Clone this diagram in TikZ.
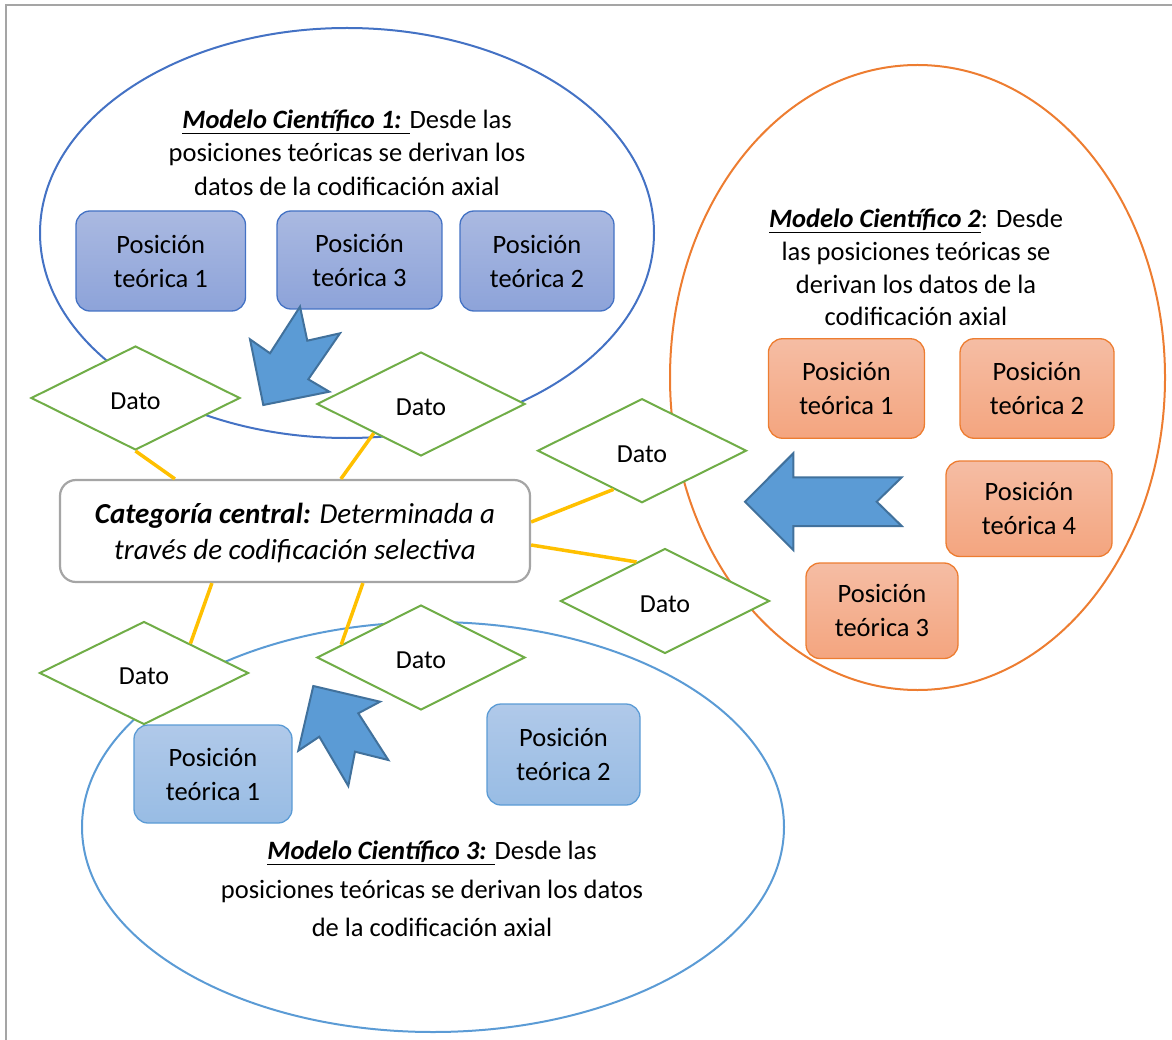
\documentclass[tikz,border=0pt]{standalone}
\usepackage{fontspec}
\setmainfont{Carlito}
\usetikzlibrary{shapes.geometric,calc}
\definecolor{eblue}{HTML}{4472C4}
\definecolor{eorange}{HTML}{ED7D31}
\definecolor{elight}{HTML}{5B9BD5}
\definecolor{dgreen}{HTML}{70AD47}
\definecolor{lyellow}{HTML}{FFC000}
\definecolor{fgray}{HTML}{A5A5A5}
\definecolor{arrfill}{HTML}{5B9BD5}
\definecolor{arrdraw}{HTML}{41719C}
\definecolor{btop}{HTML}{AAB9E1}
\definecolor{bbot}{HTML}{8DA3D9}
\definecolor{otop}{HTML}{F5BDA4}
\definecolor{obot}{HTML}{F4A57F}
\definecolor{ltop}{HTML}{B0C9E9}
\definecolor{lbot}{HTML}{98BCE4}
\newcommand{\datotext}{\raisebox{-3pt}[\height][0pt]{Dato}}
\begin{document}
\begin{tikzpicture}[x=1pt,y=-1pt,
  posbox/.style={rectangle, rounded corners=14pt, align=center, inner sep=0pt,
    font=\fontsize{26.5}{34}\selectfont, line width=1.3pt},
  bluebox/.style={posbox, draw=eblue, top color=btop, bottom color=bbot},
  orangebox/.style={posbox, draw=eorange, top color=otop, bottom color=obot},
  lightbox/.style={posbox, draw=elight, top color=ltop, bottom color=lbot},
  datobox/.style={diamond, draw=dgreen, fill=white, line width=2pt, inner sep=0pt,
    font=\fontsize{26}{28}\selectfont},
  link/.style={draw=lyellow, line width=3.5pt},
  blockarrow/.style={fill=arrfill, draw=arrdraw, line width=2pt},
  modeltext/.style={align=center, inner sep=0pt}
]
\useasboundingbox (0,0) rectangle (1172,1040);
% frame
\draw[fgray, line width=2.5pt] (6,1045) -- (6,5) -- (1180,5);

% ellipses
\node[ellipse, draw=eblue, line width=2pt, minimum width=614pt, minimum height=410pt] (e1) at (347,233) {};
\node[ellipse, draw=eorange, line width=2pt, minimum width=495pt, minimum height=625pt] (e2) at (917.5,377.5) {};
\node[ellipse, draw=elight, line width=2pt, minimum width=702pt, minimum height=410pt] (e3) at (433,827) {};

% model texts
\node[modeltext, font=\fontsize{26.5}{33.5}\selectfont] (m1) at (347,152.5)
  {\underline{\textbf{\textit{Modelo Científico 1:}} }Desde las\\posiciones teóricas se derivan los\\datos de la codificación axial};
\node[modeltext, font=\fontsize{26.5}{32.7}\selectfont] (m2) at (916,267.5)
  {\underline{\textbf{\textit{Modelo Científico 2}}}: Desde\\las posiciones teóricas se\\derivan los datos de la\\codificación axial};
\node[modeltext, font=\fontsize{26.5}{38.5}\selectfont] (m3) at (432,889)
  {\underline{\textbf{\textit{Modelo Científico 3:}} }Desde las\\posiciones teóricas se derivan los datos\\de la codificación axial};

% position boxes
\node[bluebox, minimum width=169.5pt, minimum height=100pt] (t1) at (160.75,261) {Posición\\teórica 1};
\node[bluebox, minimum width=165pt, minimum height=98pt] (t3) at (359.5,260) {Posición\\teórica 3};
\node[bluebox, minimum width=154pt, minimum height=100pt] (t2) at (537,261) {Posición\\teórica 2};

\node[orangebox, minimum width=156pt, minimum height=99.5pt] (o1) at (846.4,388.5) {Posición\\teórica 1};
\node[orangebox, minimum width=154pt, minimum height=99.5pt] (o2) at (1037,388.5) {Posición\\teórica 2};
\node[orangebox, minimum width=166pt, minimum height=95.5pt] (o4) at (1029,508.75) {Posición\\teórica 4};
\node[orangebox, minimum width=152pt, minimum height=95.5pt] (o3) at (882,610.75) {Posición\\teórica 3};

\node[lightbox, minimum width=158pt, minimum height=98pt] (b1) at (213,774) {Posición\\teórica 1};
\node[lightbox, minimum width=153pt, minimum height=101pt] (b2) at (563.5,754.5) {Posición\\teórica 2};

% central category
\node[rectangle, rounded corners=16pt, draw=fgray, fill=white, line width=2.2pt,
  minimum width=470pt, minimum height=102pt, align=center, inner sep=0pt,
  font=\fontsize{29}{36}\selectfont\itshape] (cc) at (295,531) {};
\node[align=center, inner sep=0pt, font=\fontsize{29}{36}\selectfont\itshape] (cctext) at (295,533)
  {\textbf{Categoría central:} Determinada a\\través de codificación selectiva};

% diamond positions
\path (135.5,398) coordinate (pd1) (421,404) coordinate (pd2) (642,450.7) coordinate (pd3)
      (665,601) coordinate (pd4) (144,673) coordinate (pd5) (421,657.5) coordinate (pd6);
\node[datobox, minimum width=209pt, minimum height=104pt] (d1) at (pd1) {\datotext};
\node[datobox, minimum width=208pt, minimum height=104pt] (d2) at (pd2) {\datotext};
\node[datobox, minimum width=209pt, minimum height=104pt] (d3) at (pd3) {\datotext};
\node[datobox, minimum width=209pt, minimum height=105pt] (d4) at (pd4) {\datotext};
\node[datobox, minimum width=209pt, minimum height=103pt] (d5) at (pd5) {\datotext};
\node[datobox, minimum width=208pt, minimum height=105pt] (d6) at (pd6) {\datotext};

% yellow links
\draw[link] (d1.south) -- ([xshift=116pt]cc.north west);
\draw[link] ($(d2.west)!0.55!(d2.south)$) -- ([xshift=282pt]cc.north west);
\draw[link] ($(d3.west)!0.73!(d3.south)$) -- ([yshift=9pt]cc.east);
\draw[link] ([yshift=-14pt]cc.east) -- ($(d4.west)!0.73!(d4.north)$);
\draw[link] ([xshift=153pt]cc.south west) -- ($(d5.north)!0.44!(d5.east)$);
\draw[link] ([xshift=304pt]cc.south west) -- ($(d6.west)!0.24!(d6.north)$);

% block arrows
\draw[blockarrow] (300,306.7) -- (307.3,340.7) -- (340,333.3) -- (308.3,379.3)
  -- (329.3,391.7) -- (263.3,405) -- (250,339.3) -- (270,353.3) -- cycle;
\draw[blockarrow] (745,501.7) -- (793.3,453.3) -- (793.3,477.3) -- (901.7,477.3)
  -- (876.7,501.7) -- (901.7,526) -- (793.3,526) -- (793.3,550) -- cycle;
\draw[blockarrow] (313.3,686) -- (380,701.7) -- (358.3,713.3) -- (388.3,760)
  -- (355,751.7) -- (348.3,786) -- (319.3,736.7) -- (298.3,750.7) -- cycle;
\end{tikzpicture}
\end{document}
